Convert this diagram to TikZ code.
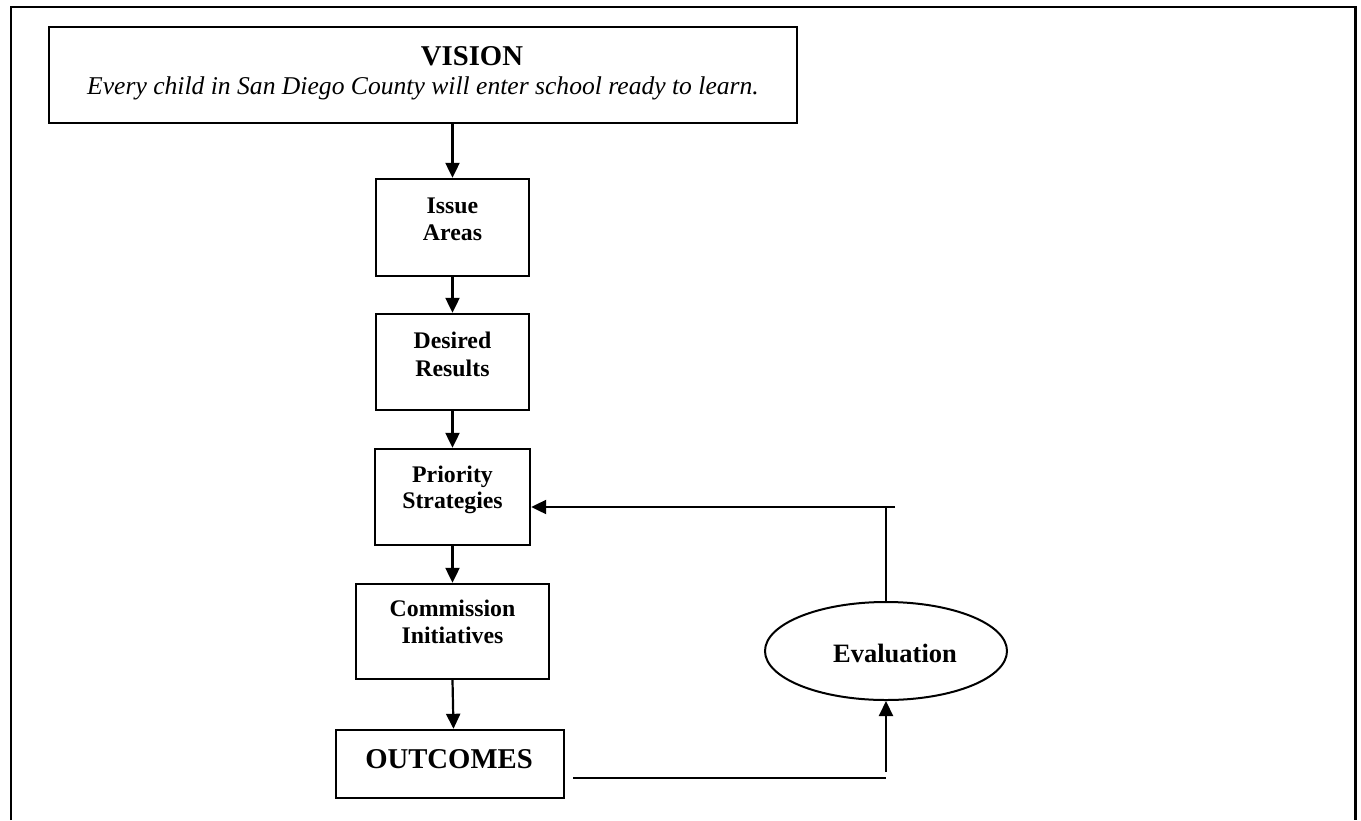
\documentclass[tikz,border=0pt]{standalone}
\usepackage{fontspec}
\setmainfont{Liberation Serif}
\usetikzlibrary{arrows.meta,shapes.geometric}
\begin{document}
\begin{tikzpicture}[x=1pt,y=-1pt,
  box/.style={draw,line width=2.4pt,rectangle,inner sep=0pt},
  lbl/.style={anchor=base,inner sep=0pt,font=\fontsize{23.8}{27}\selectfont\bfseries},
  big/.style={anchor=base,inner sep=0pt,font=\fontsize{28.7}{32}\selectfont\bfseries},
  conn/.style={line width=2.2pt},
  arr/.style={line width=2.2pt,-{Triangle[length=15pt,width=14pt]}}]
\useasboundingbox (0,0) rectangle (1361,820);
% outer frame
\draw[line width=2.4pt] (11,820) -- (11,7) -- (1355,7);
\draw[line width=3.2pt] (1355.5,6) -- (1355.5,820);
% boxes
\node[box,minimum width=748pt,minimum height=96pt] (vision) at (423,75) {};
\node[box,minimum width=153pt,minimum height=97pt] (issue) at (452.5,227.5) {};
\node[box,minimum width=153pt,minimum height=96pt] (desired) at (452.5,362) {};
\node[box,minimum width=155pt,minimum height=96pt] (priority) at (452.5,497) {};
\node[box,minimum width=193pt,minimum height=95pt] (commission) at (452.5,631.5) {};
\node[box,minimum width=228pt,minimum height=68pt] (outcomes) at (450,764) {};
\node[draw,ellipse,line width=2pt,minimum width=242pt,minimum height=98pt,inner sep=0pt] (eval) at (886,651) {};
% labels
\node[big] (visiont) at (472,65) {VISION};
\node[anchor=base,inner sep=0pt,font=\fontsize{25.6}{29}\selectfont\itshape] (visions) at (423,94) {Every child in San Diego County will enter school ready to learn.};
\node[lbl] (issue1) at (452.5,213) {Issue};
\node[lbl] (issue2) at (452.5,240) {Areas};
\node[lbl] (des1) at (452.5,348) {Desired};
\node[lbl] (des2) at (452.5,376) {Results};
\node[lbl] (pri1) at (452.5,482) {Priority};
\node[lbl] (pri2) at (452.5,508) {Strategies};
\node[lbl] (com1) at (452.5,616) {Commission};
\node[lbl] (com2) at (452.5,643) {Initiatives};
\node[big] (outt) at (449,768) {OUTCOMES};
\node[anchor=base,inner sep=0pt,font=\fontsize{26.5}{30}\selectfont\bfseries] (evalt) at (895,662) {Evaluation};
% connectors
\draw[arr] (issue.north |- vision.south) -- (issue.north);
\draw[arr] (issue.south) -- (desired.north);
\draw[arr] (desired.south) -- (priority.north);
\draw[arr] (priority.south) -- (commission.north);
\draw[arr] (commission.south) -- ([xshift=1pt]outcomes.north -| commission.south);
% feedback loop
\coordinate (fb1) at (573,778);
\coordinate (fb2) at (886,778);
\coordinate (fb3) at (886,772);
\coordinate (fb4) at (886,507);
\coordinate (fb5) at (895,507);
\draw[conn] (fb1) -- (fb2);
\draw[arr] (fb3) -- (eval.south);
\draw[conn] (eval.north) -- (fb4);
\draw[arr] (fb5) -- (priority.east |- fb5);
\end{tikzpicture}
\end{document}
